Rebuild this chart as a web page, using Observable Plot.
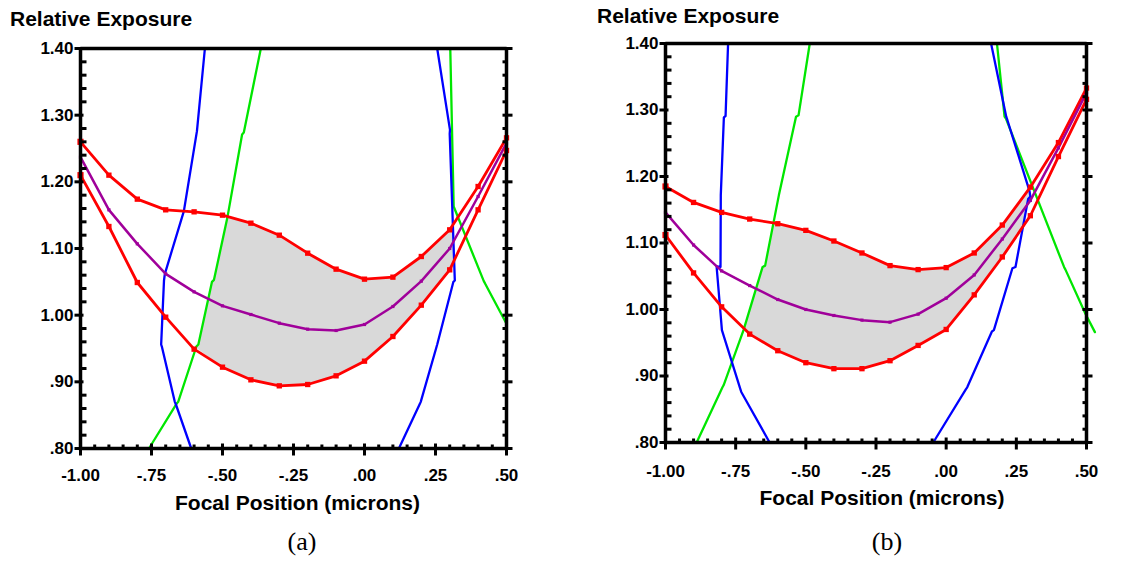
<!DOCTYPE html>
<html><head><meta charset="utf-8">
<script src="https://cdn.jsdelivr.net/npm/d3@7"></script>
<script src="https://cdn.jsdelivr.net/npm/@observablehq/plot@0.6"></script>
<style>
body{margin:0;background:#fff;width:1144px;height:565px;position:relative;overflow:hidden;font-family:"Liberation Sans",Arial,sans-serif;}
.title{position:absolute;font-weight:bold;font-size:21px;line-height:21px;white-space:nowrap;color:#000;}
.cap{position:absolute;font-family:"Liberation Serif","Times New Roman",serif;font-size:26px;line-height:26px;width:80px;text-align:center;color:#000;}
.panel{position:absolute;}
</style></head><body>
<div class="title" style="left:10px;top:8px">Relative Exposure</div>
<div class="title" style="left:597px;top:5px">Relative Exposure</div>
<div class="panel" id="pa" style="left:0px;top:30px;width:560px"></div>
<div class="panel" id="pb" style="left:580px;top:30px;width:564px"></div>
<div class="cap" style="left:262px;top:529px">(a)</div>
<div class="cap" style="left:847px;top:529px">(b)</div>
<script>
// focal positions (microns)
const focus = [-1.0,-0.9,-0.8,-0.7,-0.6,-0.5,-0.4,-0.3,-0.2,-0.1,0.0,0.1,0.2,0.3,0.4,0.5];

// Panel (a) exposure curves
const upperA = [1.260,1.210,1.174,1.158,1.155,1.150,1.138,1.120,1.093,1.069,1.054,1.057,1.088,1.128,1.193,1.266];
const midA   = [1.237,1.158,1.107,1.062,1.035,1.014,1.001,0.988,0.979,0.977,0.986,1.013,1.051,1.100,1.178,1.258];
const lowerA = [1.210,1.133,1.049,0.997,0.949,0.922,0.903,0.894,0.896,0.909,0.931,0.968,1.015,1.068,1.158,1.247];
// Panel (a) contour lines [focus, exposure]
const blueLeftA  = [[-0.562,1.40],[-0.590,1.276],[-0.636,1.156],[-0.703,1.062],[-0.706,1.052],[-0.716,0.956],[-0.713,0.952],[-0.668,0.870],[-0.664,0.866],[-0.610,0.80]];
const blueRightA = [[0.256,1.40],[0.301,1.278],[0.300,1.272],[0.318,1.052],[0.313,1.050],[0.256,0.956],[0.254,0.953],[0.198,0.870],[0.195,0.867],[0.121,0.80]];
const greenLeftA = [[-0.759,0.80],[-0.662,0.867],[-0.656,0.870],[-0.592,0.953],[-0.585,0.956],[-0.537,1.050],[-0.530,1.053],[-0.483,1.146],[-0.431,1.271],[-0.425,1.274],[-0.365,1.40]];
const greenRightA = [[0.302,1.40],[0.314,1.163],[0.420,1.051],[0.424,1.048],[0.50,0.987]];
// Panel (a) process-window corners
const shadeTLA = [-0.482,1.148];
const shadeRightA = [[0.314,1.137],[0.314,1.081]];
const shadeBLA = [-0.593,0.951];
const shadeLeftA = [[-0.585,0.956],[-0.537,1.050],[-0.530,1.053]];

// Panel (b) exposure curves
const upperB = [1.185,1.161,1.146,1.136,1.129,1.119,1.103,1.085,1.066,1.060,1.063,1.085,1.127,1.184,1.251,1.333];
const midB   = [1.146,1.097,1.058,1.036,1.015,1.000,0.991,0.984,0.981,0.993,1.017,1.052,1.106,1.164,1.243,1.326];
const lowerB = [1.112,1.055,1.004,0.963,0.938,0.920,0.911,0.911,0.923,0.946,0.970,1.022,1.079,1.141,1.230,1.316];
const blueLeftB  = [[-0.777,1.40],[-0.786,1.291],[-0.792,1.289],[-0.803,1.172],[-0.804,1.064],[-0.818,1.065],[-0.799,0.969],[-0.733,0.880],[-0.730,0.876],[-0.629,0.80]];
const blueRightB = [[0.160,1.40],[0.214,1.290],[0.218,1.285],[0.297,1.178],[0.300,1.170],[0.292,1.166],[0.247,1.064],[0.236,1.062],[0.170,0.969],[0.163,0.967],[0.075,0.883],[0.070,0.880],[-0.046,0.80]];
const greenLeftB = [[-0.889,0.80],[-0.797,0.883],[-0.793,0.886],[-0.722,0.969],[-0.654,1.064],[-0.645,1.066],[-0.596,1.172],[-0.535,1.290],[-0.526,1.292],[-0.486,1.40]];
const greenRightB = [[0.181,1.40],[0.208,1.290],[0.213,1.287],[0.420,1.064],[0.425,1.060],[0.497,0.993],[0.530,0.966]];
const shadeTLB = [-0.615,1.130];
const shadeRightB = [[0.293,1.181],[0.300,1.170],[0.292,1.166],[0.274,1.125]];
const shadeBLB = [-0.720,0.971];
const shadeLeftB = [[-0.654,1.064],[-0.645,1.066]];

// Axis ticks
const xTicks = [-1.0,-0.75,-0.5,-0.25,0.0,0.25,0.5];
const xTickLabels = ["-1.00","-.75","-.50","-.25",".00",".25",".50"];
const yTicks = [0.8,0.9,1.0,1.1,1.2,1.3,1.4];
const yTickLabels = [".80",".90","1.00","1.10","1.20","1.30","1.40"];
const xMinor = d3.range(31).map(i => -1 + i*0.05).filter((d,i) => i % 5 !== 0);
const yMinor = d3.range(31).map(i => 0.8 + i*0.02).filter((d,i) => i % 5 !== 0);
const X_DOMAIN = [-1, 0.5], Y_DOMAIN = [0.8, 1.4];

const RED = "#ff0000", PURPLE = "#a0009a", BLUE = "#0000ff", GREEN = "#00e600", SHADE = "#d9d9d9";
const FONT = "'Liberation Sans', Arial, sans-serif";

function pts(ys) { return focus.map((x, i) => ({x, y: ys[i]})); }
function shadePoly(upper, lower, tl, right, bl, left) {
  const xr0 = right[0][0], xr1 = right[right.length-1][0];
  const up = focus.map((x,i)=>[x, upper[i]]).filter(d => d[0] > tl[0] && d[0] < xr0);
  const lo = focus.map((x,i)=>[x, lower[i]]).filter(d => d[0] > bl[0] && d[0] < xr1).reverse();
  return [tl, ...up, ...right, ...lo, bl, ...left];
}

function panel(cfg) {
  const {width, height, ml, mr, mt, mb} = cfg;
  const fw = width - ml - mr, fh = height - mt - mb;
  // pixel lengths -> data units along each scale
  const px = (X_DOMAIN[1] - X_DOMAIN[0]) / fw, py = (Y_DOMAIN[1] - Y_DOMAIN[0]) / fh;
  const segs = [];
  let k = 0;
  const hTicks = (vals, x0, out, inn) => vals.forEach(v => { segs.push({k, x: x0 + out * px, y: v}, {k, x: x0 + inn * px, y: v}); k++; });
  const vTicks = (vals, y0, out, inn) => vals.forEach(v => { segs.push({k, x: v, y: y0 - out * py}, {k, x: v, y: y0 + inn * py}); k++; });
  hTicks(yTicks, X_DOMAIN[0], -6, 3);
  hTicks(yMinor, X_DOMAIN[0], 0, 6);
  hTicks(yTicks, X_DOMAIN[1], 6, -4);
  hTicks(yMinor, X_DOMAIN[1], 0, -4);
  vTicks(xTicks, Y_DOMAIN[0], 7, 5);
  vTicks(xMinor, Y_DOMAIN[0], 0, 4);
  const frame = [[X_DOMAIN[0], Y_DOMAIN[0]], [X_DOMAIN[0], Y_DOMAIN[1]], [X_DOMAIN[1], Y_DOMAIN[1]], [X_DOMAIN[1], Y_DOMAIN[0]], [X_DOMAIN[0], Y_DOMAIN[0]]];
  const xy = {x: d => d[0], y: d => d[1]};
  const up = pts(cfg.upper), mid = pts(cfg.mid), lo = pts(cfg.lower);
  return Plot.plot({
    width, height, marginLeft: ml, marginRight: mr, marginTop: mt, marginBottom: mb,
    x: {domain: X_DOMAIN}, y: {domain: Y_DOMAIN},
    style: {fontFamily: FONT, background: "white", overflow: "visible", color: "black"},
    marks: [
      Plot.line(cfg.shade, {...xy, fill: SHADE, stroke: "none"}),
      Plot.line(cfg.greenL, {...xy, stroke: GREEN, strokeWidth: 2.3}),
      Plot.line(cfg.greenR, {...xy, stroke: GREEN, strokeWidth: 2.3}),
      Plot.line(cfg.blueL, {...xy, stroke: BLUE, strokeWidth: 2.3}),
      Plot.line(cfg.blueR, {...xy, stroke: BLUE, strokeWidth: 2.3}),
      Plot.line(up, {x: "x", y: "y", stroke: RED, strokeWidth: 2.8}),
      Plot.line(lo, {x: "x", y: "y", stroke: RED, strokeWidth: 2.8}),
      Plot.line(mid, {x: "x", y: "y", stroke: PURPLE, strokeWidth: 2.5}),
      Plot.dot(up, {x: "x", y: "y", symbol: "square", fill: RED, r: d => d.x === -1 ? 3.8 : 2.8}),
      Plot.dot(lo, {x: "x", y: "y", symbol: "square", fill: RED, r: d => d.x === -1 ? 3.8 : 2.8}),
      Plot.dot(mid, {x: "x", y: "y", symbol: "square", fill: PURPLE, r: 1.8}),
      // frame and tick marks
      Plot.line(frame, {...xy, stroke: "black", strokeWidth: 3.5, strokeLinejoin: "miter", strokeLinecap: "square"}),
      Plot.line(segs, {x: "x", y: "y", z: "k", stroke: "black", strokeWidth: 3, strokeLinecap: "butt"}),
      // tick labels
      Plot.axisY(yTicks, {anchor: "left", tickSize: 0, tickPadding: 7, tickFormat: d => yTickLabels[yTicks.indexOf(d)], fontSize: 17, fontWeight: "bold", label: null}),
      Plot.axisX(xTicks, {anchor: "bottom", tickSize: 0, tickPadding: cfg.xPad, tickFormat: d => xTickLabels[xTicks.indexOf(d)], fontSize: 17, fontWeight: "bold", label: null}),
      Plot.text(["Focal Position (microns)"], {text: d => d, frameAnchor: "bottom", dy: cfg.labelDy, dx: cfg.labelDx, fontSize: 21, fontWeight: "bold", lineAnchor: "middle"})
    ]
  });
}

document.getElementById("pa").append(panel({
  width: 560, height: 500, ml: 80, mr: 54, mt: 18, mb: 82,
  upper: upperA, mid: midA, lower: lowerA,
  blueL: blueLeftA, blueR: blueRightA, greenL: greenLeftA, greenR: greenRightA,
  shade: shadePoly(upperA, lowerA, shadeTLA, shadeRightA, shadeBLA, shadeLeftA),
  labelDx: 4, labelDy: 55, xPad: 20
}));
document.getElementById("pb").append(panel({
  width: 564, height: 500, ml: 85, mr: 58, mt: 13, mb: 88,
  upper: upperB, mid: midB, lower: lowerB,
  blueL: blueLeftB, blueR: blueRightB, greenL: greenLeftB, greenR: greenRightB,
  shade: shadePoly(upperB, lowerB, shadeTLB, shadeRightB, shadeBLB, shadeLeftB),
  labelDx: 6, labelDy: 56, xPad: 22
}));
</script>
</body></html>
